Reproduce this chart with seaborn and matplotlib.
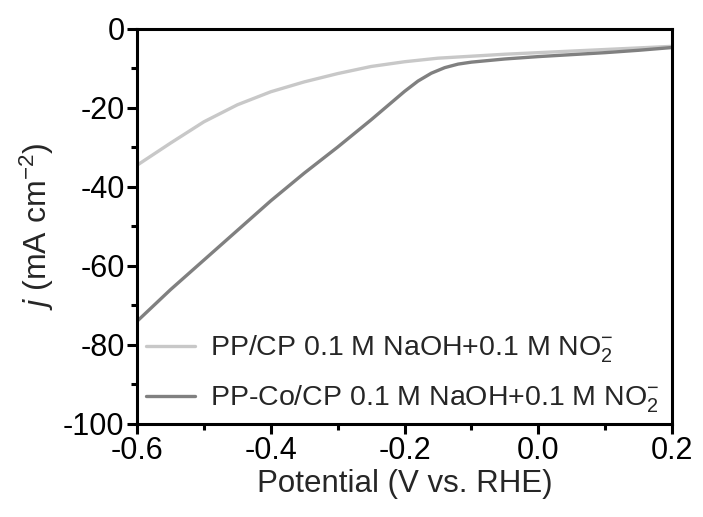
import matplotlib
matplotlib.use("Agg")
import matplotlib.pyplot as plt
from matplotlib.ticker import MultipleLocator
import seaborn as sns
import pandas as pd

# Data
pp_v = [-0.6, -0.55, -0.5, -0.45, -0.4, -0.35, -0.3, -0.25, -0.2, -0.15,
        -0.1, -0.05, 0.0, 0.05, 0.1, 0.15, 0.2]
pp_j = [-34.5, -28.9, -23.5, -19.2, -15.9, -13.4, -11.3, -9.5, -8.3, -7.4,
        -6.9, -6.4, -6.0, -5.6, -5.2, -4.8, -4.4]

ppco_v = [-0.6, -0.55, -0.5, -0.45, -0.4, -0.35, -0.3, -0.25, -0.2, -0.18,
          -0.16, -0.14, -0.12, -0.1, -0.05, 0.0, 0.05, 0.1, 0.15, 0.2]
ppco_j = [-74.0, -66.0, -58.5, -51.0, -43.5, -36.5, -29.9, -23.0, -15.8, -13.2,
          -11.2, -9.8, -8.9, -8.4, -7.6, -7.0, -6.5, -6.0, -5.4, -4.7]

labels = [r"PP/CP 0.1 M NaOH+0.1 M NO$_2^{-}$",
          r"PP-Co/CP 0.1 M NaOH+0.1 M NO$_2^{-}$"]
colors = ["#c8c8c8", "#808080"]

x_ticks = [-0.6, -0.4, -0.2, 0.0, 0.2]
y_ticks = [0, -20, -40, -60, -80, -100]

df = pd.concat([
    pd.DataFrame({"V": pp_v, "j": pp_j, "sample": labels[0]}),
    pd.DataFrame({"V": ppco_v, "j": ppco_j, "sample": labels[1]}),
], ignore_index=True)

sns.set_style("ticks")
plt.rcParams["font.family"] = ["Liberation Sans", "DejaVu Sans"]
plt.rcParams["mathtext.fontset"] = "custom"
plt.rcParams["mathtext.rm"] = "Liberation Sans"
plt.rcParams["mathtext.it"] = "Liberation Sans:italic"

fig = plt.figure(figsize=(7.03, 5.17), dpi=100)
ax = fig.add_axes([0.195, 0.180, 0.761, 0.764])

sns.lineplot(data=df, x="V", y="j", hue="sample", palette=colors,
             hue_order=labels, linewidth=2.4, ax=ax, sort=False)

ax.set_xlim(-0.6, 0.2)
ax.set_ylim(-100, 0)
ax.set_xticks(x_ticks)
ax.set_xticklabels([f"{t:.1f}" for t in x_ticks])
ax.set_yticks(y_ticks)
ax.set_yticklabels([str(t) for t in y_ticks])
ax.xaxis.set_minor_locator(MultipleLocator(0.1))
ax.yaxis.set_minor_locator(MultipleLocator(10))

for s in ax.spines.values():
    s.set_visible(True)
    s.set_linewidth(2.2)
    s.set_color("black")

ax.tick_params(which="major", direction="out", length=7, width=2.2,
               labelsize=22, colors="black", pad=2)
ax.tick_params(which="minor", direction="out", length=4, width=2.2,
               colors="black")
ax.tick_params(top=False, right=False, which="both")

ax.set_xlabel("Potential (V vs. RHE)", fontsize=22.5, labelpad=2)
ax.set_ylabel(r"$j$ (mA cm$^{-2}$)", fontsize=23, labelpad=5)

ax.legend(loc="lower left", frameon=False, fontsize=20.5, handlelength=1.75,
          handletextpad=0.5, labelspacing=0.65, borderaxespad=0.0,
          borderpad=0.3)

fig.savefig("out.png", dpi=100)
